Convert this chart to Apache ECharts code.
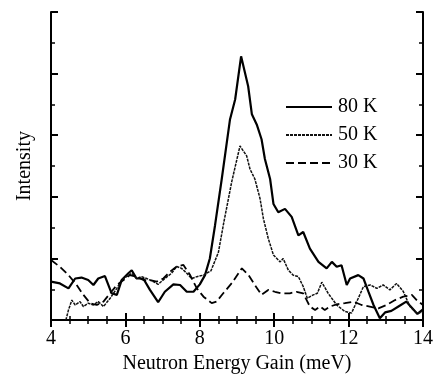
<!DOCTYPE html>
<html>
<head>
<meta charset="utf-8">
<script src="https://cdn.jsdelivr.net/npm/echarts@6/dist/echarts.min.js"></script>
<style>
html, body { margin: 0; padding: 0; background: #fff; }
#main { width: 437px; height: 379px; }
</style>
</head>
<body>
<div id="main"></div>
<script>
var serif = "'Liberation Serif', 'Times New Roman', serif";

// 80 K
var energy80 = [4.0,4.24,4.47,4.65,4.82,5.0,5.14,5.27,5.45,5.63,5.77,5.9,6.08,6.17,6.3,6.48,6.66,6.88,7.06,7.29,7.47,7.65,7.83,8.0,8.14,8.27,8.41,8.59,8.81,8.95,9.11,9.3,9.4,9.53,9.66,9.75,9.89,9.98,10.11,10.29,10.47,10.65,10.78,10.96,11.19,11.41,11.55,11.68,11.81,11.95,12.04,12.26,12.4,12.53,12.67,12.84,12.98,13.15,13.35,13.55,13.7,13.85,14.0];
var intensity80 = [1.25,1.19,1.03,1.35,1.38,1.30,1.14,1.35,1.43,0.87,0.82,1.30,1.52,1.62,1.35,1.35,0.98,0.58,0.92,1.16,1.14,0.92,0.92,1.16,1.46,2.0,3.08,4.58,6.5,7.16,8.56,7.59,6.68,6.35,5.87,5.23,4.58,3.77,3.5,3.61,3.35,2.75,2.86,2.32,1.89,1.68,1.89,1.73,1.78,1.14,1.35,1.46,1.35,0.93,0.49,0.06,0.25,0.3,0.45,0.6,0.4,0.2,0.35];

// 50 K
var energy50 = [4.4,4.47,4.56,4.65,4.78,4.87,5.0,5.14,5.27,5.41,5.59,5.77,5.9,6.03,6.17,6.3,6.44,6.57,6.75,6.88,7.06,7.24,7.38,7.51,7.65,7.78,7.92,8.1,8.3,8.5,8.65,8.86,9.08,9.26,9.35,9.48,9.62,9.71,9.84,9.98,10.16,10.24,10.38,10.51,10.65,10.78,10.89,11.05,11.16,11.28,11.45,11.68,11.9,12.08,12.22,12.4,12.58,12.76,12.93,13.11,13.29,13.47,13.65,13.83,14.0];
var intensity50 = [0.0,0.33,0.65,0.49,0.6,0.44,0.55,0.49,0.6,0.44,0.71,1.03,1.3,1.41,1.52,1.35,1.41,1.35,1.25,1.16,1.35,1.52,1.74,1.68,1.52,1.35,1.41,1.46,1.6,2.2,3.2,4.5,5.65,5.33,4.9,4.58,3.94,3.29,2.65,2.11,1.89,2.0,1.62,1.46,1.41,1.09,0.71,0.82,0.87,1.23,0.87,0.49,0.28,0.23,0.6,1.09,1.14,1.03,1.14,0.98,1.19,0.93,0.44,0.23,0.25];

// 30 K
var energy30 = [4.0,4.24,4.47,4.69,4.87,5.05,5.23,5.41,5.59,5.77,5.95,6.12,6.3,6.48,6.66,6.84,7.02,7.2,7.38,7.56,7.74,7.92,8.1,8.32,8.45,8.63,8.86,9.13,9.31,9.48,9.66,9.84,10.02,10.2,10.42,10.6,10.78,10.96,11.1,11.23,11.36,11.5,11.68,11.9,12.13,12.35,12.57,12.8,13.02,13.25,13.47,13.7,13.83,14.0];
var intensity30 = [1.95,1.73,1.46,1.14,0.82,0.55,0.49,0.6,0.87,1.14,1.3,1.46,1.41,1.3,1.3,1.25,1.35,1.57,1.74,1.79,1.46,1.03,0.76,0.55,0.6,0.87,1.2,1.68,1.46,1.14,0.82,0.98,0.92,0.87,0.87,0.92,0.87,0.44,0.33,0.44,0.33,0.44,0.51,0.55,0.6,0.49,0.44,0.38,0.49,0.65,0.76,0.82,0.65,0.49];

var seriesNames = ['80 K', '50 K', '30 K'];
var xTitle = 'Neutron Energy Gain (meV)';
var yTitle = 'Intensity';

function zip(xs, ys) {
    var out = [];
    for (var i = 0; i < xs.length; i++) out.push([xs[i], ys[i]]);
    return out;
}

var frameLine = { show: true, lineStyle: { color: '#000', width: 2 } };
var majorTick = { show: true, inside: true, length: 7, lineStyle: { color: '#000', width: 2 } };
var minorTick = function (n) {
    return { show: true, splitNumber: n, length: 4, lineStyle: { color: '#000', width: 1.5 } };
};

var chart = echarts.init(document.getElementById('main'));
chart.setOption({
    backgroundColor: '#fff',
    animation: false,
    grid: { left: 51, right: 14, top: 12, bottom: 57 },
    legend: {
        orient: 'vertical',
        left: 280,
        top: 92,
        itemWidth: 46,
        itemHeight: 14,
        itemGap: 8,
        itemStyle: { opacity: 0 },
        textStyle: { fontFamily: serif, fontSize: 20, color: '#000', padding: [0, 0, 0, 1] },
        data: seriesNames
    },
    xAxis: [{
        type: 'value', position: 'bottom',
        min: 4, max: 14, interval: 2,
        axisLine: frameLine, axisTick: majorTick, minorTick: minorTick(4),
        splitLine: { show: false },
        axisLabel: { fontFamily: serif, fontSize: 20, color: '#000', margin: 9 },
        name: xTitle, nameLocation: 'middle', nameGap: 33,
        nameTextStyle: { fontFamily: serif, fontSize: 20, color: '#000' }
    }, {
        type: 'value', position: 'top',
        min: 4, max: 14, interval: 2,
        axisLine: frameLine, axisTick: majorTick, minorTick: minorTick(4),
        splitLine: { show: false }, axisLabel: { show: false }
    }],
    yAxis: [{
        type: 'value', position: 'left',
        min: 0, max: 10, interval: 2,
        axisLine: frameLine, axisTick: majorTick, minorTick: minorTick(2),
        splitLine: { show: false }, axisLabel: { show: false },
        name: yTitle, nameLocation: 'middle', nameGap: 16,
        nameTextStyle: { fontFamily: serif, fontSize: 20, color: '#000' }
    }, {
        type: 'value', position: 'right',
        min: 0, max: 10, interval: 2,
        axisLine: frameLine, axisTick: majorTick, minorTick: minorTick(2),
        splitLine: { show: false }, axisLabel: { show: false }
    }],
    series: [{
        name: seriesNames[0], type: 'line', symbol: 'none',
        data: zip(energy80, intensity80),
        lineStyle: { color: '#000', width: 2.2 }, itemStyle: { color: '#000' }
    }, {
        name: seriesNames[1], type: 'line', symbol: 'none',
        data: zip(energy50, intensity50),
        lineStyle: { color: '#111', width: 1.5, type: [3, 1] }, itemStyle: { color: '#111' }
    }, {
        name: seriesNames[2], type: 'line', symbol: 'none',
        data: zip(energy30, intensity30),
        lineStyle: { color: '#000', width: 1.8, type: [8, 4] }, itemStyle: { color: '#000' }
    }]
});
</script>
</body>
</html>
